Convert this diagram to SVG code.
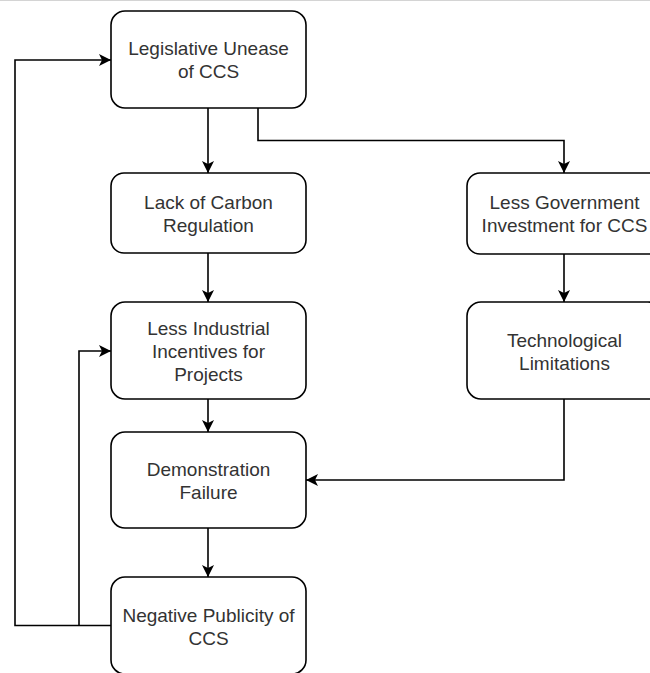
<svg xmlns="http://www.w3.org/2000/svg" width="650" height="673" viewBox="0 0 650 673">
<style>
.node rect{fill:#ffffff;stroke:#000000;stroke-width:1.6}
.node text{font-family:"Liberation Sans",Arial,Helvetica,sans-serif;font-size:19px;fill:#333333;text-anchor:middle}
.edge{fill:none;stroke:#000000;stroke-width:1.6;marker-end:url(#arr)}
.plain{fill:none;stroke:#000000;stroke-width:1.6}
</style>
<defs>
<marker id="arr" markerUnits="userSpaceOnUse" markerWidth="14" markerHeight="14" refX="12" refY="6" orient="auto">
<path d="M0,0 L12,6 L0,12 L3,6 Z" fill="#000000"/>
</marker>
</defs>
<rect x="0" y="0" width="650" height="673" fill="#ffffff"/>
<line x1="0" y1="0.5" x2="650" y2="0.5" stroke="#d4d4d4" stroke-width="1"/>
<g id="connectors">
<path class="edge" d="M208,108 V173"/>
<path class="edge" d="M258,108 V140.5 H564 V173"/>
<path class="edge" d="M208,253 V302"/>
<path class="edge" d="M564,254 V302"/>
<path class="edge" d="M208,399 V432"/>
<path class="edge" d="M564,399 V480 H306"/>
<path class="edge" d="M208,528 V577"/>
<path class="edge" d="M111,625.5 H15 V60 H111"/>
<path class="edge" d="M79,625.5 V351 H111"/>
</g>
<g id="n1" class="node">
<rect x="111" y="11" width="195" height="97" rx="14" ry="14"/>
<text x="208.5" y="55">Legislative Unease</text>
<text x="208.5" y="78">of CCS</text>
</g>
<g id="n2" class="node">
<rect x="111" y="173" width="195" height="80" rx="13" ry="13"/>
<text x="208.5" y="209">Lack of Carbon</text>
<text x="208.5" y="232">Regulation</text>
</g>
<g id="n3" class="node">
<rect x="111" y="302" width="195" height="97" rx="14" ry="14"/>
<text x="208.5" y="335">Less Industrial</text>
<text x="208.5" y="358">Incentives for</text>
<text x="208.5" y="381">Projects</text>
</g>
<g id="n4" class="node">
<rect x="111" y="432" width="195" height="96" rx="14" ry="14"/>
<text x="208.5" y="476">Demonstration</text>
<text x="208.5" y="499">Failure</text>
</g>
<g id="n5" class="node">
<rect x="111" y="577" width="195" height="97" rx="14" ry="14"/>
<text x="208.5" y="622">Negative Publicity of</text>
<text x="208.5" y="645">CCS</text>
</g>
<g id="n6" class="node">
<rect x="467" y="173" width="195" height="81" rx="13" ry="13"/>
<text x="564.5" y="209">Less Government</text>
<text x="564.5" y="232">Investment for CCS</text>
</g>
<g id="n7" class="node">
<rect x="467" y="302" width="195" height="97" rx="14" ry="14"/>
<text x="564.5" y="347">Technological</text>
<text x="564.5" y="370">Limitations</text>
</g>
</svg>
